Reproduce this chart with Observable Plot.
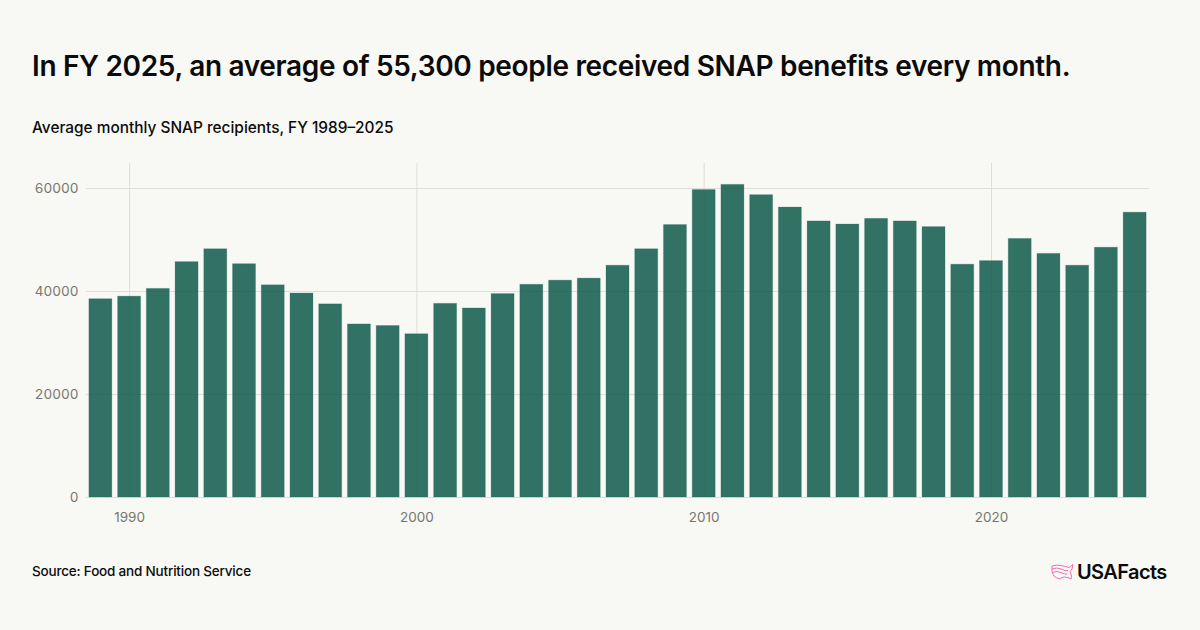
<!DOCTYPE html>
<html>
<head>
<meta charset="utf-8">
<script src="https://cdn.jsdelivr.net/npm/d3@7"></script>
<script src="https://cdn.jsdelivr.net/npm/@observablehq/plot@0.6"></script>
<style>
html,body{margin:0;padding:0;background:#f8f8f4;width:1200px;height:630px;overflow:hidden;font-family:Inter,sans-serif;color:#0b0b0b}
#title{position:absolute;left:32px;top:48px;font-size:28px;font-weight:600;line-height:36px;white-space:nowrap;letter-spacing:-.33px}
#subtitle{position:absolute;left:32px;top:118px;font-size:15.4px;font-weight:500;line-height:20px;white-space:nowrap}
#chart{position:absolute;left:0;top:150px}
#source{position:absolute;left:32px;top:561px;font-size:13.5px;font-weight:500;line-height:20px;white-space:nowrap;letter-spacing:-.19px}
#logo{position:absolute;left:1051px;top:560px;display:flex;align-items:center;gap:3px}
#logo span{font-size:20px;font-weight:600;letter-spacing:-.6px;line-height:24px}
</style>
</head>
<body>
<div id="title">In FY 2025, an average of 55,300 people received SNAP benefits every month.</div>
<div id="subtitle">Average monthly SNAP recipients, FY 1989–2025</div>
<div id="chart"></div>
<div id="source">Source: Food and Nutrition Service</div>
<div id="logo">
<svg width="23" height="20" viewBox="0 0 23 20" fill="none" stroke="#ee6fb5" stroke-width="1" stroke-linejoin="round"><path d="M1 4 Q5 2.5 10 3.5 T18 5.5 L22 2.5 L21 7 L19 9.5 L20.5 14 L20 17 L17 15.5 Q13 14.5 11 15.5 L9 17 Q5 16 3 14 L1 10 Z"/><path d="M1 7 Q6 5 10 7 T17 8.5 M1.5 10.5 Q6 8.5 10 10.5 T16.5 12"/></svg>
<span>USAFacts</span>
</div>
<script>
const years = d3.range(1989, 2026);
const recipients = [38500,39000,40500,45700,48200,45300,41200,39600,37500,33600,33300,31700,37600,36700,39500,41300,42100,42500,45000,48200,52900,59700,60700,58700,56300,53600,53000,54100,53600,52500,45200,45900,50200,47300,45000,48500,55300];
const yTicks = [0,20000,40000,60000];
const xTicks = [1990,2000,2010,2020];
const rows = years.map((year,i)=>({year,value:recipients[i]}));
const grid = "#dfdfd9", muted = "#77776f";
const chart = Plot.plot({
  width:1200, height:392,
  marginLeft:86, marginRight:51, marginTop:13, marginBottom:45,
  style:{background:"transparent",fontFamily:"Inter,sans-serif",fontSize:"13.5px",color:muted},
  x:{type:"band",domain:years,paddingInner:0.2,paddingOuter:0.1,round:false,label:null},
  y:{domain:[0,64850],label:null},
  marks:[
    Plot.ruleY(yTicks,{stroke:grid,strokeWidth:1,strokeOpacity:1}),
    Plot.ruleX(xTicks,{x:d=>d,stroke:grid,strokeWidth:1}),
    Plot.barY(rows,{x:"year",y:"value",fill:"#0f5a4a",fillOpacity:.85,stroke:"#0f5a4a",strokeOpacity:.2,strokeWidth:1}),
    Plot.axisX(xTicks,{tickSize:0,tickPadding:15,fill:muted,fontSize:13.5,label:null,tickFormat:d=>String(d)}),
    Plot.axisY(yTicks,{tickSize:0,tickPadding:8,fill:muted,fontSize:13.5,label:null,tickFormat:d=>String(d)})
  ]
});
document.getElementById("chart").append(chart);
</script>
</body>
</html>
